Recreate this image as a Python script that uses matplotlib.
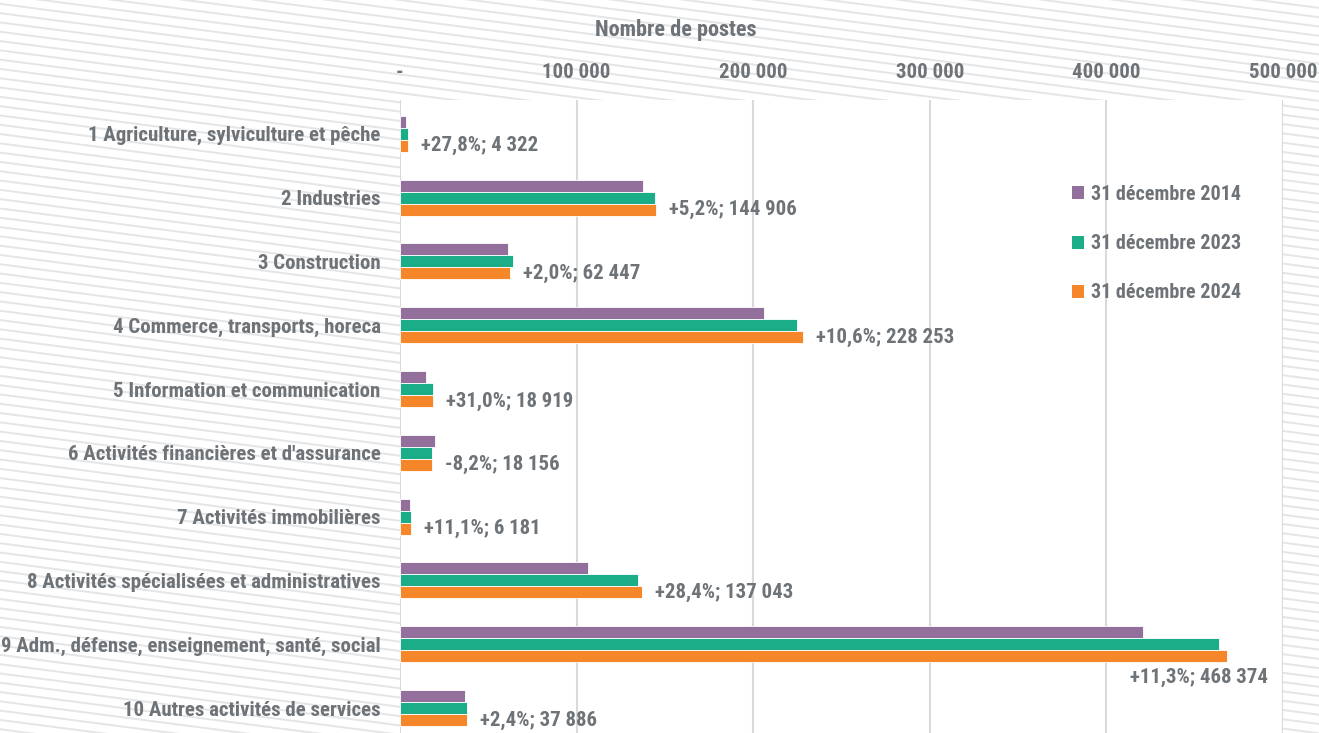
import numpy as np
import matplotlib
matplotlib.use("Agg")
import matplotlib.pyplot as plt
from matplotlib.patches import Patch
from matplotlib.collections import LineCollection

# data (postes par secteur)
categories = [
    "1 Agriculture, sylviculture et pêche",
    "2 Industries",
    "3 Construction",
    "4 Commerce, transports, horeca",
    "5 Information et communication",
    "6 Activités financières et d'assurance",
    "7 Activités immobilières",
    "8 Activités spécialisées et administratives",
    "9 Adm., défense, enseignement, santé, social",
    "10 Autres activités de services",
]
series_names = ["31 décembre 2014", "31 décembre 2023", "31 décembre 2024"]
v2014 = [3382, 137743, 61223, 206377, 14442, 19778, 5563, 106731, 420821, 36998]
v2023 = [4300, 144400, 64100, 224700, 18700, 18100, 6200, 134500, 463700, 38000]
v2024 = [4322, 144906, 62447, 228253, 18919, 18156, 6181, 137043, 468374, 37886]
pct = [27.8, 5.2, 2.0, 10.6, 31.0, -8.2, 11.1, 28.4, 11.3, 2.4]
xticks = [0, 100000, 200000, 300000, 400000, 500000]
xticklabels = ["-", "100 000", "200 000", "300 000", "400 000", "500 000"]

colors = ["#936f9b", "#1aad87", "#f5872a"]
txt = "#6e7378"
plt.rcParams["font.family"] = ["Roboto Condensed", "DejaVu Sans"]
plt.rcParams["font.weight"] = "bold"
fs = 15

W, H = 1319, 733
fig = plt.figure(figsize=(W / 100, H / 100), dpi=100)
fig.patch.set_facecolor("white")

# diagonal stripes in the background
slope = 0.13
step = 9.3
segs = []
for c in np.arange(-slope * W - 20, H + 20, step):
    y0 = H - c
    y1 = H - (c + slope * W)
    segs.append([(0, y0 / H), (1, y1 / H)])
lc = LineCollection(segs, colors="#e3e5e7", linewidths=1.4, transform=fig.transFigure, zorder=-5)
fig.add_artist(lc)

ax = fig.add_axes([400 / W, 0, 883 / W, 1 - 100 / H])
ax.set_facecolor("white")

y = np.arange(len(categories))
h = 0.188
for k, vals in enumerate([v2014, v2023, v2024]):
    ax.barh(y + (k - 1) * h, vals, height=h, color=colors[k], edgecolor="white",
            linewidth=0.6, label=series_names[k], zorder=3)

xmax = 500000
ax.set_xlim(0, xmax)
ax.set_ylim(9.39, -0.53)

for i, (v, p) in enumerate(zip(v2024, pct)):
    s = ("%+.1f" % p).replace(".", ",") + "%; " + "{:,}".format(v).replace(",", " ")
    if v > 0.9 * xmax:
        ax.annotate(s, xy=(xmax, i + h), xytext=(-15, -21), textcoords="offset pixels",
                    ha="right", va="center", fontsize=fs, color=txt, fontweight="bold")
    else:
        ax.annotate(s, xy=(v, i + h), xytext=(13, 0), textcoords="offset pixels",
                    ha="left", va="center", fontsize=fs, color=txt, fontweight="bold")

ax.xaxis.tick_top()
ax.set_xticks(xticks)
ax.set_xticklabels(xticklabels)
ax.set_yticks(y)
ax.set_yticklabels(categories)
ax.tick_params(axis="x", length=0, pad=13, labelsize=fs, labelcolor=txt)
ax.tick_params(axis="y", length=0, pad=14, labelsize=fs, labelcolor=txt)
ax.grid(axis="x", color="#d9d9d9", linewidth=1.5, zorder=0)
ax.grid(axis="y", visible=False)
for sp in ax.spines.values():
    sp.set_visible(False)

fig.text(676 / W, 1 - 30 / H, "Nombre de postes", ha="center", va="center",
         fontsize=16, color=txt, fontweight="bold")

handles = [Patch(facecolor=c, edgecolor="none") for c in colors]
fig.legend(handles, series_names, loc="upper left", bbox_to_anchor=(1072 / W, 1 - 185 / H),
           frameon=False, handlelength=0.62, handleheight=0.62, handletextpad=0.3,
           labelspacing=1.5, borderpad=0, borderaxespad=0, prop={"size": 14.5, "weight": "bold"},
           labelcolor=txt)

fig.savefig("out.png", dpi=100)
